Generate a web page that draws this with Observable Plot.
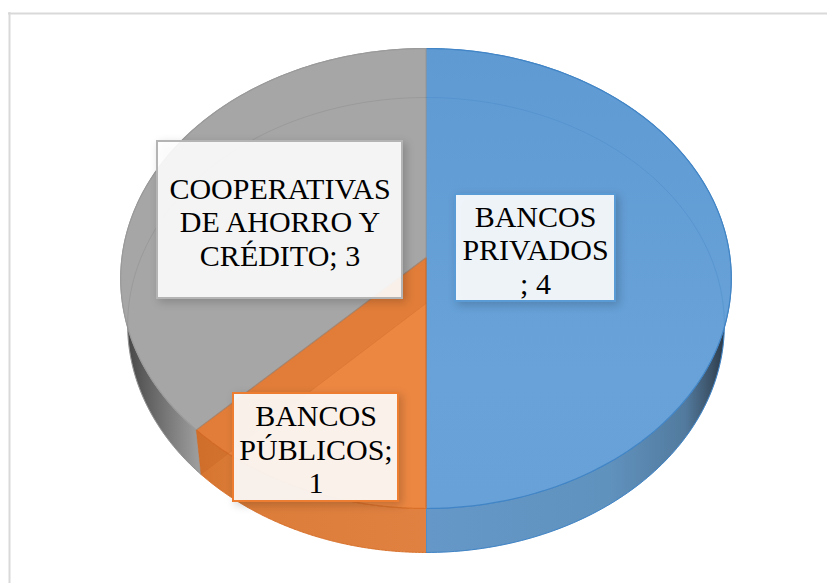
<!DOCTYPE html>
<html>
<head>
<meta charset="utf-8">
<style>html,body{margin:0;padding:0;background:#fff}svg{display:block}</style>
<script src="https://cdn.jsdelivr.net/npm/d3@7"></script>
<script src="https://cdn.jsdelivr.net/npm/@observablehq/plot@0.6"></script>
</head>
<body>
<script>
const categories = ["BANCOS\nPRIVADOS", "BANCOS\nPÚBLICOS", "COOPERATIVAS\nDE AHORRO Y\nCRÉDITO"];
const separators = ["\n; ", ";\n", "; "];
const values = [4, 1, 3];
const topFills = ["url(#topBlue)", "#EC8742", "#A6A6A6"];
const wallFills = ["url(#wallBlue)", "url(#wallOrange)", "url(#wallGray)"];
const rims = ["#4285C6", "#D8702A", "#9A9A9A"];
const boxBorders = ["#5B9BD5", "#ED7D31", "#B4B4B4"];
const boxes = [[455, 615, 194, 301], [233, 398, 393, 501], [157, 402, 141, 298]];

const W = 827, H = 583;
const camTop = {b: 257, a: -204.6, c: 0.0913, d: 304};
const camBottom = {b: 303, a: -196.8, c: 0.0945, d: 297};
const cx = 425.5;
const project = (cam, t) => {
  const u = Math.sin(t), v = Math.cos(t), k = 1 + cam.c * v;
  return {x: cx + cam.d * u / k, y: (cam.b + cam.a * v) / k};
};
const arc = (cam, a0, a1) => d3.range(0, 181).map(i => project(cam, a0 + (a1 - a0) * i / 180));

const total = d3.sum(values);
const ends = Array.from(d3.cumsum(values), v => v / total * 2 * Math.PI);
const starts = [0, ...ends.slice(0, -1)];
const apex = cam => ({x: cx, y: cam.b});

const wall = i => [...arc(camTop, starts[i], ends[i]), ...arc(camBottom, ends[i], starts[i])];
const face = i => [apex(camTop), ...arc(camTop, starts[i], ends[i]), apex(camTop)];
const cut = i => [apex(camTop), project(camTop, ends[i]), project(camBottom, ends[i]), apex(camBottom)];

const line = (data, o) => Plot.line(data, {x: "x", y: "y", curve: "linear", ...o});
const defs = () => {
  const svg = d3.create("svg:defs");
  const grad = (id, x2, y2, stops) => {
    const g = svg.append("linearGradient").attr("id", id).attr("x1", 0).attr("y1", 0).attr("x2", x2).attr("y2", y2);
    for (const [o, c] of stops) g.append("stop").attr("offset", o).attr("stop-color", c);
  };
  grad("topBlue", 0, 1, [[0, "#5F9AD3"], [0.7, "#68A2D8"], [1, "#68A1D7"]]);
  grad("wallBlue", 1, 0, [[0, "#6598C8"], [0.6, "#6092BE"], [0.85, "#527A9E"], [0.94, "#3A4F63"], [1, "#222C38"]]);
  grad("wallOrange", 1, 0, [[0, "#D5752F"], [0.25, "#DC7D3A"], [1, "#E08141"]]);
  grad("wallGray", 1, 0, [[0, "#3E3E3E"], [0.08, "#5E5E5E"], [0.25, "#9C9C9C"], [1, "#A6A6A6"]]);
  return svg.node();
};

const labels = categories.map((c, i) => ({
  text: `${c}${separators[i]}${values[i]}`,
  x: (boxes[i][0] + boxes[i][1]) / 2,
  y: (boxes[i][2] + boxes[i][3]) / 2,
  border: boxBorders[i],
  x1: boxes[i][0], x2: boxes[i][1], y1: boxes[i][2], y2: boxes[i][3]
}));

const plot = Plot.plot({
  width: W, height: H, margin: 0,
  x: {domain: [0, W], range: [0, W], axis: null},
  y: {domain: [0, H], range: [0, H], axis: null},
  marks: [
    defs,
    Plot.ruleX([9], {y1: 12, y2: H, stroke: "#D9D9D9", strokeWidth: 2}),
    Plot.ruleY([13], {x1: 8, x2: W, stroke: "#D9D9D9", strokeWidth: 2}),
    ...values.map((_, i) => line(wall(i), {fill: wallFills[i], stroke: rims[i], strokeWidth: 1})),
    ...values.map((_, i) => line(face(i), {fill: topFills[i], stroke: rims[i], strokeWidth: 1.2})),
    line(cut(1), {fill: "#B9551A", fillOpacity: 0.2, stroke: "#C96A2A", strokeOpacity: 0.4, strokeWidth: 0.8}),
    line(arc(camBottom, starts[0], ends[0]), {stroke: "#3F80C4", strokeOpacity: 0.3, strokeWidth: 1}),
    line(arc(camBottom, starts[2], ends[2]), {stroke: "#777", strokeOpacity: 0.25, strokeWidth: 1}),
    Plot.rect(labels, {
      x1: "x1", x2: "x2", y1: "y1", y2: "y2",
      fill: "#fff", fillOpacity: 0.9, stroke: "border", strokeWidth: 2,
      imageFilter: "drop-shadow(3px 3px 4px rgba(0,0,0,0.2))"
    }),
    Plot.text(labels, {
      x: "x", y: "y", dy: 1.5, text: "text", fill: "#000",
      fontFamily: "Liberation Serif", fontSize: 30, lineHeight: 1.117, textAnchor: "middle", lineAnchor: "middle"
    })
  ],
  color: {type: "identity"}
});
document.body.appendChild(plot);
</script>
</body>
</html>
